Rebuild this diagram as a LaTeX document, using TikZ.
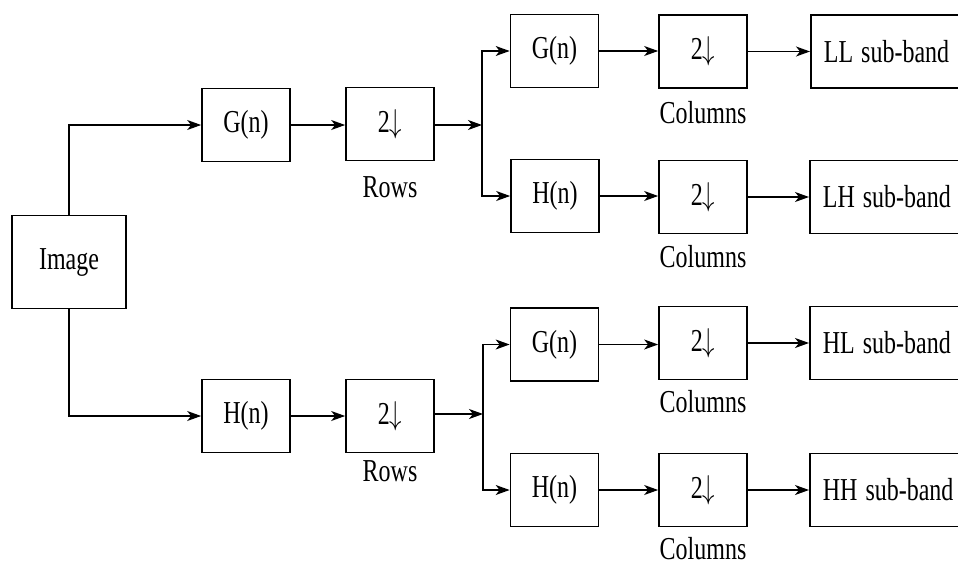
\documentclass[tikz,border=0pt]{standalone}
\usepackage{fontspec}
\usepackage{graphicx}
\setmainfont{Liberation Serif}
\usetikzlibrary{arrows.meta}
\newcommand{\tl}[1]{\scalebox{1}[1.33]{#1}}
\tikzset{
  blk/.style={draw=black, line width=1.7pt, minimum width=88pt, minimum height=73pt, inner sep=0pt, font=\fontsize{24}{28}\selectfont},
  band/.style={draw=black, line width=1.7pt, minimum height=73pt, text width=140pt, inner xsep=13pt, inner ysep=0pt, align=left, anchor=west, font=\fontsize{24}{28}\selectfont},
  lbl/.style={inner sep=0pt, font=\fontsize{24}{28}\selectfont},
  arr/.style={line width=1.3pt, -{Stealth[length=14pt, width=10pt, inset=4pt]}}
}
\begin{document}
\begin{tikzpicture}[x=1pt, y=-1pt]
\useasboundingbox (0,0) rectangle (958,565);
% left part
\node[blk, minimum width=114pt, minimum height=93pt] (img) at (69,262) {\tl{Image}};
\node[blk] (g1) at (246,125) {\tl{G(n)}};
\node[blk] (d1) at (390,124) {\tl{2$\downarrow$}};
\node[lbl] (r1) at (390,187) {\tl{Rows}};
\node[blk] (h1) at (246,416) {\tl{H(n)}};
\node[blk] (d2) at (390,416) {\tl{2$\downarrow$}};
\node[lbl] (r2) at (390,471) {\tl{Rows}};
% junctions
\coordinate (j1) at (482,125);
\coordinate (j2) at (483,414);
% upper right
\node[blk] (g2) at (554.5,51) {\tl{G(n)}};
\node[blk] (c1) at (703,51.5) {\tl{2$\downarrow$}};
\node[lbl] (cl1) at (703,113) {\tl{Columns}};
\node[band] (ll) at (810,51.5) {\tl{LL sub-band}};
\node[blk] (h2) at (555,196) {\tl{H(n)}};
\node[blk] (c2) at (703,197) {\tl{2$\downarrow$}};
\node[lbl] (cl2) at (703,257) {\tl{Columns}};
\node[band] (lh) at (809,197) {\tl{LH sub-band}};
% lower right
\node[blk] (g3) at (554.5,344.5) {\tl{G(n)}};
\node[blk] (c3) at (703,343) {\tl{2$\downarrow$}};
\node[lbl] (cl3) at (703,402) {\tl{Columns}};
\node[band] (hl) at (809,343) {\tl{HL sub-band}};
\node[blk] (h3) at (554.5,490) {\tl{H(n)}};
\node[blk] (c4) at (703,490) {\tl{2$\downarrow$}};
\node[lbl] (cl4) at (703,549) {\tl{Columns}};
\node[band] (hh) at (809,490) {\tl{HH sub-band}};
% connectors
\draw[arr] (img.north) |- (g1.west);
\draw[arr] (img.south) |- (h1.west);
\draw[arr] (g1.east) -- (d1.west |- g1.east);
\draw[arr] (h1.east) -- (d2.west |- h1.east);
\draw[arr] (d1.east |- j1) -- (j1);
\draw[arr] (d2.east |- j2) -- (j2);
\draw[arr] (j1) |- (g2.west);
\draw[arr] (j1) |- (h2.west);
\draw[arr] (j2) |- (g3.west);
\draw[arr] (j2) |- (h3.west);
\draw[arr] (g2.east) -- (c1.west |- g2.east);
\draw[arr] (h2.east) -- (c2.west |- h2.east);
\draw[arr] (g3.east) -- (c3.west |- g3.east);
\draw[arr] (h3.east) -- (c4.west |- h3.east);
\draw[arr] (c1.east) -- (ll.west |- c1.east);
\draw[arr] (c2.east) -- (lh.west |- c2.east);
\draw[arr] (c3.east) -- (hl.west |- c3.east);
\draw[arr] (c4.east) -- (hh.west |- c4.east);
\end{tikzpicture}
\end{document}
